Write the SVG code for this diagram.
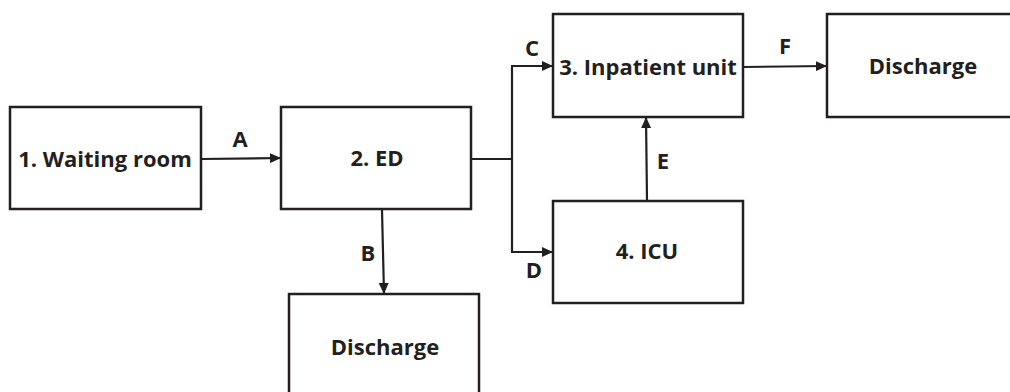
<svg xmlns="http://www.w3.org/2000/svg" width="1010" height="392" viewBox="0 0 1010 392">
<defs>
<style>
.box{fill:#fff;stroke:#231f20;stroke-width:2.5}
.lbl{font-family:"Open Sans","Liberation Sans",sans-serif;font-weight:700;font-size:22px;fill:#231f20;text-anchor:middle}
.cn{fill:none;stroke:#231f20;stroke-width:2.2}
</style>
<marker id="ah" markerUnits="userSpaceOnUse" markerWidth="11" markerHeight="10" refX="11" refY="5" orient="auto">
<path d="M0,0 L11,5 L0,10 z" fill="#231f20"/>
</marker>
</defs>
<rect width="1010" height="392" fill="#fff"/>
<g id="connectors">
<path class="cn" d="M201,159 L281,158" marker-end="url(#ah)"/>
<path class="cn" d="M382,210 L384,294" marker-end="url(#ah)"/>
<path class="cn" d="M471,159 L512,159 M512,66 L512,252"/>
<path class="cn" d="M511,66 L553,66" marker-end="url(#ah)"/>
<path class="cn" d="M511,252 L553,252" marker-end="url(#ah)"/>
<path class="cn" d="M647,201 L646,117" marker-end="url(#ah)"/>
<path class="cn" d="M743,67 L827,66" marker-end="url(#ah)"/>
<text class="lbl" x="240" y="147">A</text>
<text class="lbl" x="368" y="261">B</text>
<text class="lbl" x="532" y="56">C</text>
<text class="lbl" x="534" y="278">D</text>
<text class="lbl" x="663" y="169">E</text>
<text class="lbl" x="785" y="54">F</text>
</g>
<g id="waiting">
<rect class="box" x="10" y="107" width="191" height="102"/>
<text class="lbl" x="105" y="167">1. Waiting room</text>
</g>
<g id="ed">
<rect class="box" x="281" y="107" width="190" height="102"/>
<text class="lbl" x="377" y="166">2. ED</text>
</g>
<g id="discharge1">
<rect class="box" x="289" y="294" width="190" height="104"/>
<text class="lbl" x="385" y="355">Discharge</text>
</g>
<g id="inpatient">
<rect class="box" x="553" y="14" width="190" height="103"/>
<text class="lbl" x="648" y="75">3. Inpatient unit</text>
</g>
<g id="icu">
<rect class="box" x="553" y="201" width="190" height="102"/>
<text class="lbl" x="647" y="259">4. ICU</text>
</g>
<g id="discharge2">
<rect class="box" x="827" y="14" width="192" height="103"/>
<text class="lbl" x="923" y="74">Discharge</text>
</g>
</svg>
